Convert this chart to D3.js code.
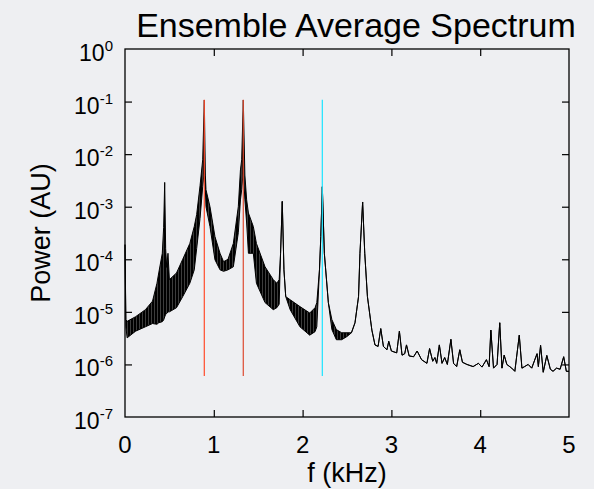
<!DOCTYPE html>
<html>
<head>
<meta charset="utf-8">
<script src="https://cdn.jsdelivr.net/npm/d3@7"></script>
<style>
  html, body { margin: 0; padding: 0; background: #eeeff2; }
  svg { display: block; font-family: "Liberation Sans", Arial, Helvetica, sans-serif; }
</style>
</head>
<body>
<div id="chart"></div>
<script>
// spectrum: where the trace is a dense comb, hi/lo are the band edges
const freq = [0, 0.01, 0.024, 0.12, 0.23, 0.31, 0.36, 0.38, 0.42, 0.435, 0.447, 0.458, 0.47, 0.484, 0.5, 0.58, 0.65, 0.73, 0.78, 0.807, 0.845, 0.875, 0.893, 0.905, 0.912, 0.957, 1.013, 1.07, 1.11, 1.16, 1.22, 1.276, 1.3, 1.314, 1.332, 1.35, 1.37, 1.39, 1.445, 1.48, 1.577, 1.67, 1.71, 1.736, 1.752, 1.771, 1.79, 1.81, 1.86, 1.97, 2.08, 2.14, 2.16, 2.19, 2.205, 2.222, 2.245, 2.29, 2.33, 2.38, 2.44, 2.5, 2.55, 2.59, 2.63, 2.646, 2.676, 2.7, 2.73, 2.78, 2.815, 2.85, 2.88, 2.91, 2.95, 2.97, 3.0, 3.06, 3.09, 3.12, 3.15, 3.17, 3.2, 3.25, 3.29, 3.34, 3.4, 3.43, 3.465, 3.49, 3.51, 3.54, 3.57, 3.6, 3.63, 3.67, 3.7, 3.735, 3.77, 3.8, 3.85, 3.92, 3.98, 4.02, 4.07, 4.1, 4.12, 4.15, 4.19, 4.22, 4.245, 4.27, 4.3, 4.355, 4.39, 4.44, 4.47, 4.5, 4.54, 4.58, 4.64, 4.655, 4.68, 4.71, 4.75, 4.79, 4.82, 4.86, 4.9, 4.94, 4.97, 5.0];
const powerHi = [1.9e-4, 7.1e-6, 6.6e-6, 8.1e-6, 1.1e-5, 1.6e-5, 3.5e-5, 5.5e-5, 1.3e-4, 4e-4, 2.9e-3, 1.6e-4, 7e-5, 1.3e-4, 4.1e-5, 5.5e-5, 1e-4, 2e-4, 4.2e-4, 7.1e-4, 2.5e-3, 7.8e-3, 1.07e-1, 4e-3, 2.1e-3, 1e-3, 2.7e-4, 1.3e-4, 9e-5, 1e-4, 2e-4, 1e-3, 5e-3, 7.8e-3, 1.07e-1, 4e-3, 1.35e-3, 7.6e-4, 4.2e-4, 2e-4, 7.2e-5, 4.1e-5, 3.5e-5, 4.1e-5, 1.3e-4, 1.26e-3, 6.3e-5, 1.95e-5, 1.7e-5, 1.26e-5, 9.5e-6, 1.2e-5, 1.5e-5, 6.3e-5, 2.7e-4, 2.4e-3, 1.3e-4, 1.5e-5, 7.1e-6, 4.6e-6, 4e-6, 4e-6, 4e-6, 6.2e-6, 1.95e-5, 1.3e-4, 1.23e-3, 1.3e-4, 1.95e-5, 4.5e-6, 2.35e-6, 2.2e-6, 4.8e-6, 2.2e-6, 1.9e-6, 2.75e-6, 1.8e-6, 1.66e-6, 4.3e-6, 1.5e-6, 1.6e-6, 2.35e-6, 1.45e-6, 1.4e-6, 1.8e-6, 1.23e-6, 1.05e-6, 2e-6, 1.15e-6, 1.35e-6, 1.05e-6, 2.35e-6, 1.05e-6, 1.35e-6, 1e-6, 3e-6, 1.05e-6, 9.1e-7, 1.9e-6, 1.1e-6, 1e-6, 9.1e-7, 1.05e-6, 8.9e-7, 1.23e-6, 9.1e-7, 4.5e-6, 8.5e-7, 1e-6, 6.2e-6, 8.5e-7, 1.5e-6, 1e-6, 8.5e-7, 7.4e-7, 3.6e-6, 8.5e-7, 9.1e-7, 1e-6, 8.5e-7, 1.6e-6, 9.1e-7, 2.3e-6, 7.1e-7, 1.48e-6, 8.1e-7, 7.4e-7, 8.5e-7, 8.1e-7, 1.4e-6, 7.4e-7, 7.4e-7];
const powerLo = [1.9e-4, 5.2e-6, 3.2e-6, 4.3e-6, 5.2e-6, 6e-6, 5.8e-6, 6.2e-6, 6.5e-6, 7e-6, 8e-6, 9e-6, 9.3e-6, 1e-5, 1e-5, 1.2e-5, 1.95e-5, 3.5e-5, 6.3e-5, 1.6e-4, 6e-4, 2.4e-3, 5e-3, 2.1e-3, 1e-3, 4.2e-4, 9.8e-5, 6.3e-5, 5.9e-5, 6.3e-5, 7.2e-5, 3.2e-4, 1.35e-3, 2.1e-3, 5e-3, 1.35e-3, 4.9e-4, 1.3e-4, 1.3e-4, 3.5e-5, 1.5e-5, 1.1e-5, 1.2e-5, 1.4e-5, 1.3e-4, 1.26e-3, 6.3e-5, 1.95e-5, 1.1e-5, 5.2e-6, 3.6e-6, 4.2e-6, 5.2e-6, 6.3e-5, 2.7e-4, 2.4e-3, 1.3e-4, 1.5e-5, 4.6e-6, 2.95e-6, 2.95e-6, 3.4e-6, 4e-6, 6.2e-6, 1.95e-5, 1.3e-4, 1.23e-3, 1.3e-4, 1.95e-5, 4.5e-6, 2.35e-6, 2.2e-6, 4.8e-6, 2.2e-6, 1.9e-6, 2.75e-6, 1.8e-6, 1.66e-6, 4.3e-6, 1.5e-6, 1.6e-6, 2.35e-6, 1.45e-6, 1.4e-6, 1.8e-6, 1.23e-6, 1.05e-6, 2e-6, 1.15e-6, 1.35e-6, 1.05e-6, 2.35e-6, 1.05e-6, 1.35e-6, 1e-6, 3e-6, 1.05e-6, 9.1e-7, 1.9e-6, 1.1e-6, 1e-6, 9.1e-7, 1.05e-6, 8.9e-7, 1.23e-6, 9.1e-7, 4.5e-6, 8.5e-7, 1e-6, 6.2e-6, 8.5e-7, 1.5e-6, 1e-6, 8.5e-7, 7.4e-7, 3.6e-6, 8.5e-7, 9.1e-7, 1e-6, 8.5e-7, 1.6e-6, 9.1e-7, 2.3e-6, 7.1e-7, 1.48e-6, 8.1e-7, 7.4e-7, 8.5e-7, 8.1e-7, 1.4e-6, 7.4e-7, 7.4e-7];

// marker lines
const markerFreq = [0.893, 1.332, 2.222];
const markerColor = ["#ff4a2a", "#dd4a30", "#1ae4ff"];
const markerRange = [6e-7, 1.08e-1];

const xTicks = [0, 1, 2, 3, 4, 5];
const yTickExp = [0, -1, -2, -3, -4, -5, -6, -7];

const width = 594, height = 489;
const margin = {top: 49, right: 25, bottom: 72, left: 125};
const plotW = width - margin.left - margin.right;
const plotH = height - margin.top - margin.bottom;

const svg = d3.select("#chart").append("svg")
    .attr("width", width)
    .attr("height", height);

svg.append("rect")
    .attr("width", width).attr("height", height)
    .attr("fill", "#eeeff2");

// the comb of the ensemble spectrum is drawn as a fine vertical hatch
let comb = svg.append("defs")
    .append("pattern")
    .attr("id", "comb")
    .attr("patternUnits", "userSpaceOnUse")
    .attr("width", 3).attr("height", 8);
comb.append("rect").attr("width", 3).attr("height", 8).attr("fill", "#3c3c3c");
comb.append("rect").attr("width", 2).attr("height", 8).attr("fill", "#000");

const g = svg.append("g")
    .attr("transform", "translate(" + margin.left + "," + margin.top + ")");

let x = d3.scaleLinear().domain([0, 5]).range([0, plotW]);
let y = d3.scaleLog().domain([1e-7, 1]).range([plotH, 0]);

const spectrum = freq.map((f, i) => ({f: f, hi: powerHi[i], lo: powerLo[i]}));

g.append("path")
    .datum(spectrum)
    .attr("d", d3.area().x(d => x(d.f)).y0(d => y(d.lo)).y1(d => y(d.hi)))
    .attr("fill", "url(#comb)")
    .attr("stroke", "#000")
    .attr("stroke-width", 1)
    .attr("stroke-linejoin", "round");

g.selectAll("line.marker")
    .data(markerFreq)
    .enter().append("line")
    .attr("class", "marker")
    .attr("x1", d => x(d)).attr("x2", d => x(d))
    .attr("y1", y(markerRange[0])).attr("y2", y(markerRange[1]))
    .attr("stroke", (d, i) => markerColor[i])
    .attr("stroke-width", 1.2);

// axes: ticks point inward on all four sides
const inner = xTicks.slice(1, -1);
const innerY = yTickExp.slice(1, -1).map(e => Math.pow(10, e));

g.append("g")
    .attr("transform", "translate(0," + plotH + ")")
    .call(d3.axisBottom(x).tickValues(inner).tickSize(-7).tickFormat(""));
g.append("g")
    .call(d3.axisTop(x).tickValues(inner).tickSize(-7).tickFormat(""));
g.append("g")
    .call(d3.axisLeft(y).tickValues(innerY).tickSize(-7).tickFormat(""));
g.append("g")
    .attr("transform", "translate(" + plotW + ",0)")
    .call(d3.axisRight(y).tickValues(innerY).tickSize(-7).tickFormat(""));
g.selectAll(".domain").remove();
g.selectAll(".tick line").attr("stroke", "#000").attr("stroke-width", 1.2);

g.append("rect")
    .attr("width", plotW).attr("height", plotH)
    .attr("fill", "none")
    .attr("stroke", "#000")
    .attr("stroke-width", 1.3);

// tick labels
g.selectAll("text.xlab")
    .data(xTicks)
    .enter().append("text")
    .attr("class", "xlab")
    .attr("x", d => x(d))
    .attr("y", plotH + 36)
    .attr("text-anchor", "middle")
    .attr("font-size", 24)
    .text(d => d);

const ylab = g.selectAll("text.ylab")
    .data(yTickExp)
    .enter().append("text")
    .attr("class", "ylab")
    .attr("x", -12)
    .attr("y", d => y(Math.pow(10, d)) + 12)
    .attr("text-anchor", "end");
ylab.append("tspan").attr("font-size", 23).text("10");
ylab.append("tspan").attr("font-size", 15).attr("dy", -10).text(d => d);

// titles
svg.append("text")
    .attr("x", 356).attr("y", 37)
    .attr("text-anchor", "middle")
    .attr("font-size", 34)
    .text("Ensemble Average Spectrum");

svg.append("text")
    .attr("x", margin.left + plotW / 2).attr("y", 482)
    .attr("text-anchor", "middle")
    .attr("font-size", 27)
    .text("f (kHz)");

svg.append("text")
    .attr("transform", "translate(50," + (margin.top + plotH / 2) + ") rotate(-90)")
    .attr("text-anchor", "middle")
    .attr("font-size", 27)
    .text("Power (AU)");
</script>
</body>
</html>
